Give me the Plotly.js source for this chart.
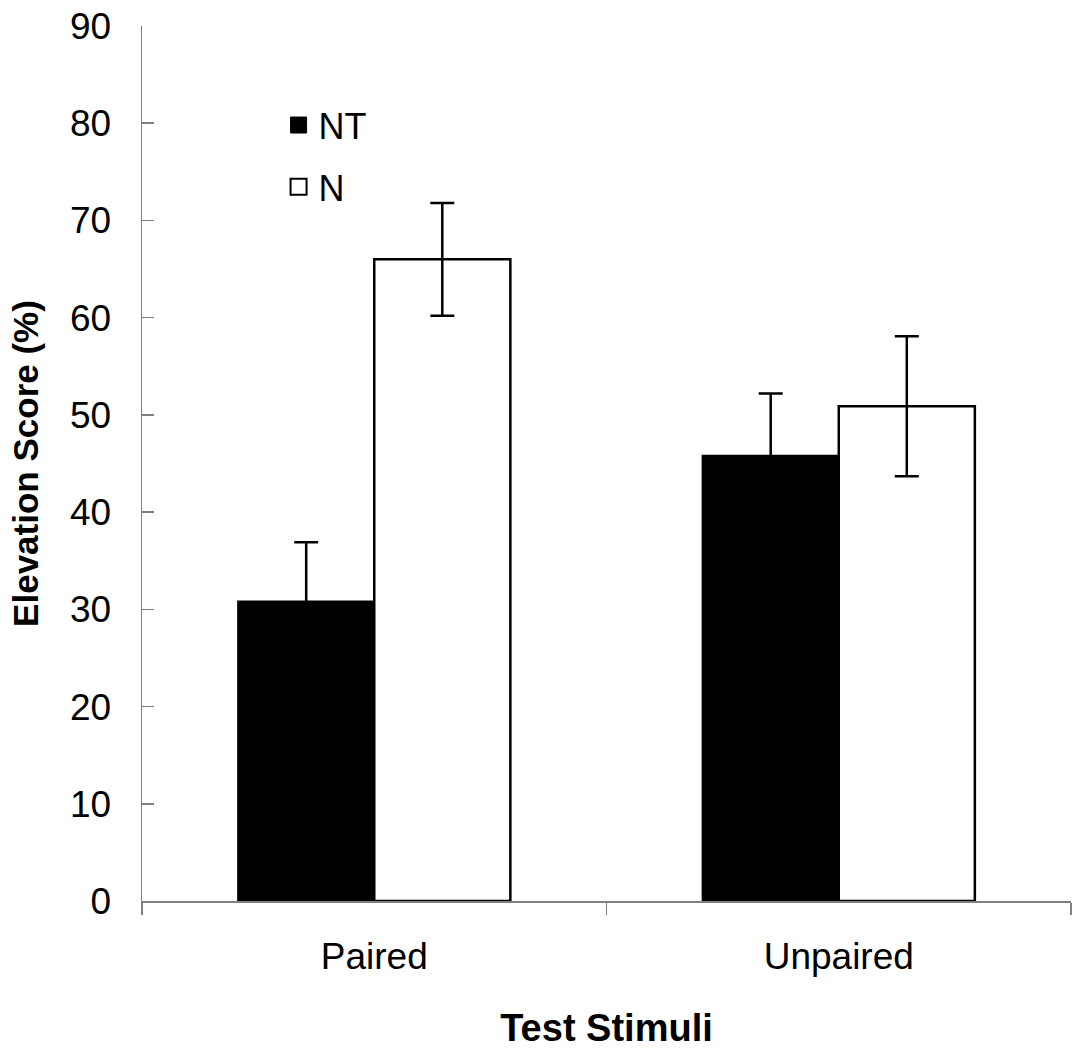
<!DOCTYPE html>
<html>
<head>
<meta charset="utf-8">
<script src="https://cdn.plot.ly/plotly-3.0.1.min.js"></script>
<style>html,body{margin:0;padding:0;background:#fff;}#chart{width:1074px;height:1051px;}</style>
</head>
<body>
<div id="chart"></div>
<script>
const categories = ["Paired", "Unpaired"];
const seriesNames = ["NT", "N"];
const ntValues = [30.8, 45.8];
const ntErrors = [6.1, 6.4];
const nValues = [66.0, 50.9];
const nErrors = [5.8, 7.2];
const yTicks = [0, 10, 20, 30, 40, 50, 60, 70, 80, 90];

const FONT = "Liberation Sans, Arial, sans-serif";

const errStyle = {type: "data", visible: true, color: "#000", thickness: 2.5, width: 12};

const traces = [
  {
    type: "bar", x: categories, y: ntValues, name: seriesNames[0], showlegend: false,
    marker: {color: "#000", line: {color: "#000", width: 2}},
    error_y: Object.assign({array: ntErrors}, errStyle)
  },
  {
    type: "bar", x: categories, y: nValues, name: seriesNames[1], showlegend: false,
    marker: {color: "#fff", line: {color: "#000", width: 2.5}},
    error_y: Object.assign({array: nErrors}, errStyle)
  },
  {
    type: "scatter", mode: "markers", x: [null], y: [null], name: seriesNames[0],
    legendgroup: "a", hoverinfo: "skip",
    marker: {symbol: "square", size: 22, color: "#000", line: {color: "#000", width: 1}}
  },
  {
    type: "scatter", mode: "markers", x: [null], y: [null], name: seriesNames[1],
    legendgroup: "b", hoverinfo: "skip",
    marker: {symbol: "square", size: 22, color: "#fff", line: {color: "#000", width: 2}}
  }
];

const layout = {
  width: 1074, height: 1051,
  margin: {l: 142, r: 3, t: 26, b: 150},
  paper_bgcolor: "#fff", plot_bgcolor: "#fff",
  font: {family: FONT, color: "#000", size: 36},
  barmode: "group", bargap: 0.414, bargroupgap: 0,
  showlegend: true,
  legend: {
    x: 0.147, y: 0.921, xanchor: "left", yanchor: "top",
    bgcolor: "rgba(0,0,0,0)", font: {family: FONT, size: 36, color: "#000"},
    itemsizing: "trace", tracegroupgap: 12, traceorder: "grouped"
  },
  xaxis: {
    type: "category", showline: true, linecolor: "#808080", linewidth: 1.5,
    ticks: "outside", ticklen: 12, tickcolor: "#808080", tickwidth: 1.5,
    tickson: "boundaries", showgrid: false, zeroline: false,
    tickfont: {family: FONT, size: 37}, ticklabelstandoff: 22,
    title: {text: "<b>Test Stimuli</b>", font: {family: FONT, size: 38}, standoff: 38}
  },
  yaxis: {
    range: [0, 90], tickvals: yTicks, ticktext: yTicks.map(String),
    showline: true, linecolor: "#808080", linewidth: 1.5,
    ticks: "inside", ticklen: 12, tickcolor: "#808080", tickwidth: 1.5,
    showgrid: false, zeroline: false,
    tickfont: {family: FONT, size: 37}, ticklabelstandoff: 22,
    title: {text: "<b>Elevation Score (%)</b>", font: {family: FONT, size: 35}, standoff: 20}
  }
};

Plotly.newPlot("chart", traces, layout, {displayModeBar: false, staticPlot: true});
</script>
</body>
</html>
